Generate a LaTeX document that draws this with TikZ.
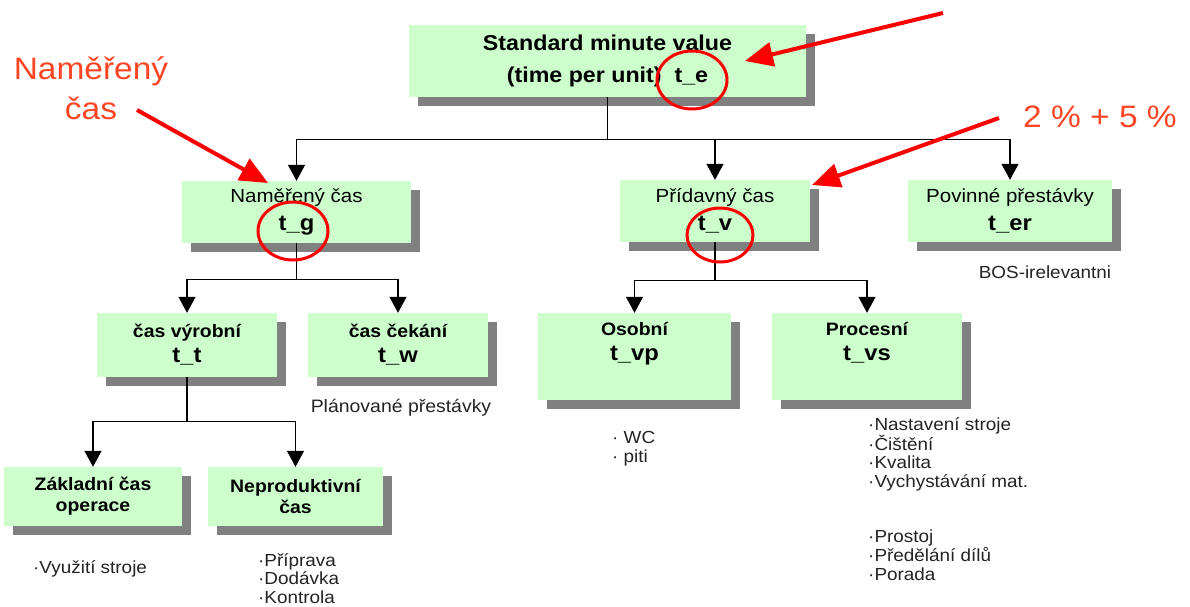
\documentclass[tikz,border=0pt]{standalone}
\usepackage{fontspec}
\setmainfont{Liberation Sans}[FakeStretch=1.08]
\usepackage{tikz}
\usetikzlibrary{shapes,arrows.meta,positioning,calc,shadows}
\definecolor{palemint}{RGB}{204,255,204}
\definecolor{shadegray}{RGB}{128,128,128}
\definecolor{notered}{RGB}{255,69,36}
\definecolor{markred}{RGB}{250,0,0}
\definecolor{listink}{RGB}{35,35,35}
\newcommand{\fsz}[2]{\fontsize{#1}{#2}\selectfont}
\newcommand{\tsym}[1]{{\fsz{22}{24}\bfseries #1}}

\begin{document}
\begin{tikzpicture}[x=1pt,y=-1pt,
    timebox/.style={fill=palemint, inner sep=0pt, align=center,
        drop shadow={shadow xshift=9pt,shadow yshift=-9pt,fill=shadegray,opacity=1}},
    tree/.style={line width=1.2pt, -{Triangle[width=17pt,length=16pt]}},
    callout/.style={markred, line width=4pt, -{Triangle[width=24pt,length=28pt]}},
    ring/.style={ellipse, draw=markred, line width=3pt, inner sep=0pt},
    note/.style={text=notered, font=\fsz{31}{40}, align=center},
    items/.style={text=listink, font=\fsz{17.5}{18.8}, align=left, anchor=north west, inner sep=0pt}]
\useasboundingbox (0,0) rectangle (1190,606);

% time boxes
\node[timebox, minimum width=397pt, minimum height=72pt, font=\fsz{21.5}{32}\bfseries] (te) at (607.5,61)
    {Standard minute value\\(time per unit)\ \ t\_e};
\node[timebox, minimum width=229pt, minimum height=62pt, font=\fsz{19}{28}] (tg) at (296.5,212)
    {Naměřený čas\\\tsym{t\_g}};
\node[timebox, minimum width=190pt, minimum height=62pt, font=\fsz{19}{28}] (tv) at (715,211)
    {Přídavný čas\\\tsym{t\_v}};
\node[timebox, minimum width=204pt, minimum height=62pt, font=\fsz{19}{28}] (ter) at (1010,211)
    {Povinné přestávky\\\tsym{t\_er}};
\node[timebox, minimum width=180pt, minimum height=64pt, font=\fsz{18}{25}\bfseries] (tt) at (187,345)
    {čas výrobní\\\tsym{t\_t}};
\node[timebox, minimum width=180pt, minimum height=64pt, font=\fsz{18}{25}\bfseries] (tw) at (398,345)
    {čas čekání\\\tsym{t\_w}};
\node[timebox, minimum width=193pt, minimum height=87pt, font=\fsz{18}{25}\bfseries] (vp) at (634.5,356.5)
    {Osobní\\\tsym{t\_vp}\\\rule[-6pt]{0pt}{6pt}};
\node[timebox, minimum width=190pt, minimum height=87pt, font=\fsz{18}{25}\bfseries] (vs) at (867,356.5)
    {Procesní\\\tsym{t\_vs}\\\rule[-6pt]{0pt}{6pt}};
\node[timebox, minimum width=178pt, minimum height=59pt, font=\fsz{18}{21}\bfseries] (zc) at (93,496.5)
    {Základní čas\\operace};
\node[timebox, minimum width=175pt, minimum height=59pt, font=\fsz{18}{21}\bfseries] (nc) at (295.5,496.5)
    {Neproduktivní\\čas};

% tree
\draw[tree] (te.south) -- ++(0,42) -| (tg.north);
\draw[tree] (te.south) -- ++(0,42) -| (tv.north);
\draw[tree] (te.south) -- ++(0,42) -| (ter.north);
\draw[tree] (tg.south) -- ++(0,36) -| (tt.north);
\draw[tree] (tg.south) -- ++(0,36) -| (tw.north);
\draw[tree] (tv.south) -- ++(0,38) -| (vp.north);
\draw[tree] (tv.south) -- ++(0,38) -| (vs.north);
\draw[tree] (tt.south) -- ++(0,44) -| (zc.north);
\draw[tree] (tt.south) -- ++(0,44) -| (nc.north);

% side texts
\node[text=listink, font=\fsz{17.5}{20}] (bos) at (1045,272) {BOS-irelevantni};
\node[text=listink, font=\fsz{18}{20}] (breaks) at (401,408) {Plánované přestávky};
\node[items] (util) at (33,560) {·Využití stroje};
\node[items] (prep) at (258,553) {·Příprava\\·Dodávka\\·Kontrola};
\node[items] (wc) at (612,431) {· WC\\· piti};
\node[items] (setup) at (868,417) {·Nastavení stroje\\·Čištění\\·Kvalita\\·Vychystávání mat.};
\node[items] (idle) at (868,530) {·Prostoj\\·Předělání dílů\\·Porada};

% red marks
\node[note] (ng-note) at (91,88) {Naměřený\\čas};
\node[note] (pv-note) at (1100,117) {2 \% + 5 \%};
\coordinate (te-from) at (943,13);
\coordinate (te-hit) at (745,61);
\coordinate (ng-from) at (137,110);
\coordinate (ng-hit) at (268,183);
\coordinate (pv-from) at (999,118);
\coordinate (pv-hit) at (812,185);
\draw[callout] (te-from) -- (te-hit);
\draw[callout] (ng-from) -- (ng-hit);
\draw[callout] (pv-from) -- (pv-hit);
\node[ring, minimum width=70pt, minimum height=58pt] (te-ring) at (692,80) {};
\node[ring, minimum width=70pt, minimum height=58pt] (tg-ring) at (293,231) {};
\node[ring, minimum width=66pt, minimum height=54pt] (tv-ring) at (720,235) {};
\end{tikzpicture}
\end{document}
